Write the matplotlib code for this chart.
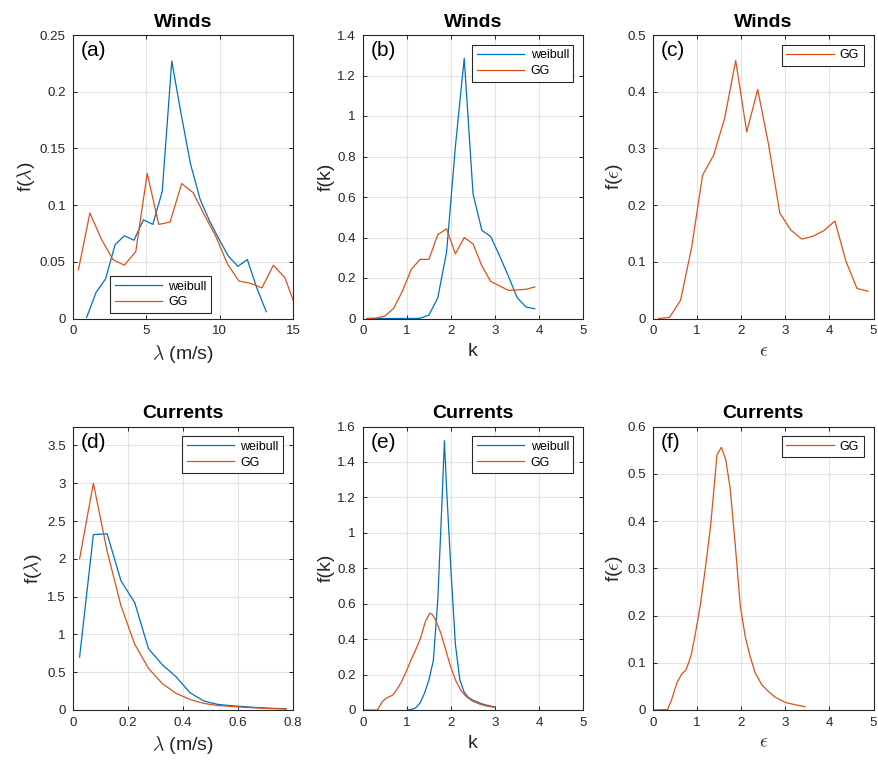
import matplotlib
matplotlib.use('Agg')
import matplotlib.pyplot as plt
from matplotlib.ticker import FormatStrFormatter

plt.rcParams['font.family'] = ['Liberation Sans', 'DejaVu Sans']
plt.rcParams['mathtext.fontset'] = 'cm'

BLUE = '#0072BD'
ORANGE = '#D95319'
DARK = '#262626'

# (a) winds, lambda
wind_lam_wb_x = [0.95, 1.59, 2.24, 2.88, 3.52, 4.17, 4.81, 5.45, 6.09, 6.74,
                 7.38, 8.02, 8.67, 9.31, 9.95, 10.59, 11.24, 11.88, 12.52, 13.17]
wind_lam_wb_y = [0.001, 0.023, 0.035, 0.065, 0.073, 0.069, 0.087, 0.083, 0.112, 0.227,
                 0.18, 0.136, 0.105, 0.086, 0.07, 0.055, 0.046, 0.052, 0.027, 0.006]
wind_lam_gg_x = [0.39, 1.17, 1.95, 2.73, 3.51, 4.29, 5.07, 5.85, 6.63, 7.41,
                 8.19, 8.97, 9.75, 10.53, 11.31, 12.09, 12.87, 13.65, 14.43, 15.21]
wind_lam_gg_y = [0.043, 0.093, 0.070, 0.052, 0.047, 0.059, 0.128, 0.083, 0.085, 0.119,
                 0.111, 0.091, 0.072, 0.048, 0.033, 0.031, 0.027, 0.047, 0.036, 0.009]

# (b) winds, k
wind_k_x = [0.1, 0.3, 0.5, 0.7, 0.9, 1.1, 1.3, 1.5, 1.7, 1.9,
            2.1, 2.3, 2.5, 2.7, 2.9, 3.1, 3.3, 3.5, 3.7, 3.9]
wind_k_wb_y = [0, 0, 0, 0, 0, 0, 0.001, 0.017, 0.102, 0.328,
               0.85, 1.285, 0.615, 0.435, 0.405, 0.31, 0.21, 0.103, 0.057, 0.048]
wind_k_gg_y = [0, 0.002, 0.012, 0.05, 0.136, 0.243, 0.292, 0.292, 0.414, 0.443,
               0.319, 0.40, 0.368, 0.26, 0.183, 0.161, 0.139, 0.141, 0.144, 0.156]

# (c) winds, epsilon
wind_eps_x = [0.125, 0.375, 0.625, 0.875, 1.125, 1.375, 1.625, 1.875, 2.125, 2.375,
              2.625, 2.875, 3.125, 3.375, 3.625, 3.875, 4.125, 4.375, 4.625, 4.875]
wind_eps_gg_y = [0, 0.002, 0.032, 0.125, 0.253, 0.288, 0.353, 0.455, 0.329, 0.404,
                 0.305, 0.186, 0.156, 0.140, 0.145, 0.155, 0.172, 0.101, 0.053, 0.048]

# (d) currents, lambda
cur_lam_x = [0.025, 0.075, 0.125, 0.175, 0.225, 0.275, 0.325, 0.375,
             0.425, 0.475, 0.525, 0.575, 0.625, 0.675, 0.725, 0.775]
cur_lam_wb_y = [0.70, 2.32, 2.33, 1.71, 1.42, 0.81, 0.60, 0.44,
                0.23, 0.12, 0.075, 0.057, 0.044, 0.031, 0.022, 0.017]
cur_lam_gg_y = [2.0, 3.0, 2.1, 1.38, 0.87, 0.55, 0.35, 0.22,
                0.14, 0.088, 0.06, 0.047, 0.035, 0.026, 0.018, 0.013]

# (e) currents, k
cur_k_wb_x = [1.0, 1.1, 1.2, 1.3, 1.4, 1.5, 1.6, 1.7, 1.8, 1.85, 1.9,
              2.0, 2.1, 2.2, 2.3, 2.4, 2.5, 2.6, 2.7, 2.8, 2.9, 3.0]
cur_k_wb_y = [0.0, 0.003, 0.012, 0.04, 0.095, 0.17, 0.28, 0.62, 1.2, 1.52, 1.25,
              0.78, 0.37, 0.17, 0.1, 0.07, 0.055, 0.045, 0.035, 0.028, 0.022, 0.017]
cur_k_gg_x = [0.02, 0.33, 0.44, 0.55, 0.67, 0.74, 0.86, 0.97, 1.08, 1.2, 1.31, 1.42,
              1.52, 1.58, 1.65, 1.77, 1.88, 1.99, 2.1, 2.22, 2.33, 2.48, 2.64, 2.79, 2.98]
cur_k_gg_y = [0, 0, 0.047, 0.07, 0.083, 0.104, 0.151, 0.208, 0.274, 0.34, 0.406, 0.5,
              0.547, 0.538, 0.509, 0.434, 0.34, 0.245, 0.17, 0.113, 0.079, 0.051, 0.034, 0.023, 0.015]

# (f) currents, epsilon
cur_eps_x = [0.03, 0.33, 0.42, 0.54, 0.65, 0.75, 0.86, 0.95, 1.07, 1.18, 1.3, 1.37, 1.45,
             1.55, 1.65, 1.75, 1.86, 1.98, 2.09, 2.2, 2.32, 2.47, 2.62, 2.77, 3.0, 3.23, 3.45]
cur_eps_gg_y = [0, 0.001, 0.021, 0.057, 0.076, 0.085, 0.114, 0.156, 0.22, 0.295, 0.384, 0.455, 0.54,
                0.556, 0.53, 0.469, 0.355, 0.22, 0.156, 0.114, 0.078, 0.053, 0.039, 0.027, 0.016, 0.011, 0.007]


def style_axis(ax, title, letter, xlabel, ylabel, xlim, xticks, ylim, yticks):
    ax.set_xlim(xlim)
    ax.set_ylim(ylim)
    ax.set_xticks(xticks)
    ax.set_yticks(yticks)
    ax.xaxis.set_major_formatter(FormatStrFormatter('%g'))
    ax.yaxis.set_major_formatter(FormatStrFormatter('%g'))
    ax.grid(True, color='#e3e3e3', linewidth=0.8)
    ax.set_axisbelow(True)
    ax.tick_params(direction='in', length=3, width=0.7, top=True, right=True,
                   labelsize=9.6, colors=DARK, pad=5)
    for s in ax.spines.values():
        s.set_color(DARK)
        s.set_linewidth(0.8)
    ax.set_title(title, fontsize=14, fontweight='bold', pad=6)
    ax.set_xlabel(xlabel, fontsize=14, color=DARK, labelpad=4)
    ax.set_ylabel(ylabel, fontsize=14, color=DARK, labelpad=2)
    ax.text(0.035, 0.945, letter, transform=ax.transAxes, fontsize=15,
            ha='left', va='center', color='black')


def add_legend(ax, **kw):
    leg = ax.legend(fontsize=9, handlelength=3.8, fancybox=False, framealpha=1,
                    edgecolor=DARK, borderpad=0.35, labelspacing=0.3,
                    handletextpad=0.5, **kw)
    leg.get_frame().set_linewidth(0.8)


fig = plt.figure(figsize=(8.79, 7.61), dpi=100)
W, H = 879.0, 761.0
lefts = [72.7, 362.8, 653.0]
aw = 220.5
row_top = [35.0, 426.5]
ah = 283.5


def make_axes(col, row):
    l = lefts[col] / W
    b = 1 - (row_top[row] + ah) / H
    return fig.add_axes([l, b, aw / W, ah / H])


lam_lbl = r'$\lambda$ (m/s)'
flam = r'f($\lambda$)'
eps_lbl = r'$\epsilon$'
feps = r'f($\epsilon$)'

# (a)
ax = make_axes(0, 0)
ax.plot(wind_lam_wb_x, wind_lam_wb_y, color=BLUE, lw=0.9, label='weibull')
ax.plot(wind_lam_gg_x, wind_lam_gg_y, color=ORANGE, lw=0.9, label='GG')
style_axis(ax, 'Winds', '(a)', lam_lbl, flam, (0, 15), [0, 5, 10, 15],
           (0, 0.25), [0, 0.05, 0.1, 0.15, 0.2, 0.25])
add_legend(ax, loc='lower left', bbox_to_anchor=(0.17, 0.02), borderaxespad=0)

# (b)
ax = make_axes(1, 0)
ax.plot(wind_k_x, wind_k_wb_y, color=BLUE, lw=0.9, label='weibull')
ax.plot(wind_k_x, wind_k_gg_y, color=ORANGE, lw=0.9, label='GG')
style_axis(ax, 'Winds', '(b)', 'k', 'f(k)', (0, 5), [0, 1, 2, 3, 4, 5],
           (0, 1.4), [0, 0.2, 0.4, 0.6, 0.8, 1, 1.2, 1.4])
add_legend(ax, loc='upper right', borderaxespad=0.8)

# (c)
ax = make_axes(2, 0)
ax.plot(wind_eps_x, wind_eps_gg_y, color=ORANGE, lw=0.9, label='GG')
style_axis(ax, 'Winds', '(c)', eps_lbl, feps, (0, 5), [0, 1, 2, 3, 4, 5],
           (0, 0.5), [0, 0.1, 0.2, 0.3, 0.4, 0.5])
add_legend(ax, loc='upper right', borderaxespad=0.8)

# (d)
ax = make_axes(0, 1)
ax.plot(cur_lam_x, cur_lam_wb_y, color=BLUE, lw=0.9, label='weibull')
ax.plot(cur_lam_x, cur_lam_gg_y, color=ORANGE, lw=0.9, label='GG')
style_axis(ax, 'Currents', '(d)', lam_lbl, flam, (0, 0.8), [0, 0.2, 0.4, 0.6, 0.8],
           (0, 3.75), [0, 0.5, 1, 1.5, 2, 2.5, 3, 3.5])
add_legend(ax, loc='upper right', borderaxespad=0.8)

# (e)
ax = make_axes(1, 1)
ax.plot(cur_k_wb_x, cur_k_wb_y, color=BLUE, lw=0.9, label='weibull')
ax.plot(cur_k_gg_x, cur_k_gg_y, color=ORANGE, lw=0.9, label='GG')
style_axis(ax, 'Currents', '(e)', 'k', 'f(k)', (0, 5), [0, 1, 2, 3, 4, 5],
           (0, 1.6), [0, 0.2, 0.4, 0.6, 0.8, 1, 1.2, 1.4, 1.6])
add_legend(ax, loc='upper right', borderaxespad=0.8)

# (f)
ax = make_axes(2, 1)
ax.plot(cur_eps_x, cur_eps_gg_y, color=ORANGE, lw=0.9, label='GG')
style_axis(ax, 'Currents', '(f)', eps_lbl, feps, (0, 5), [0, 1, 2, 3, 4, 5],
           (0, 0.6), [0, 0.1, 0.2, 0.3, 0.4, 0.5, 0.6])
add_legend(ax, loc='upper right', borderaxespad=0.8)

fig.savefig('out.png', dpi=100)
